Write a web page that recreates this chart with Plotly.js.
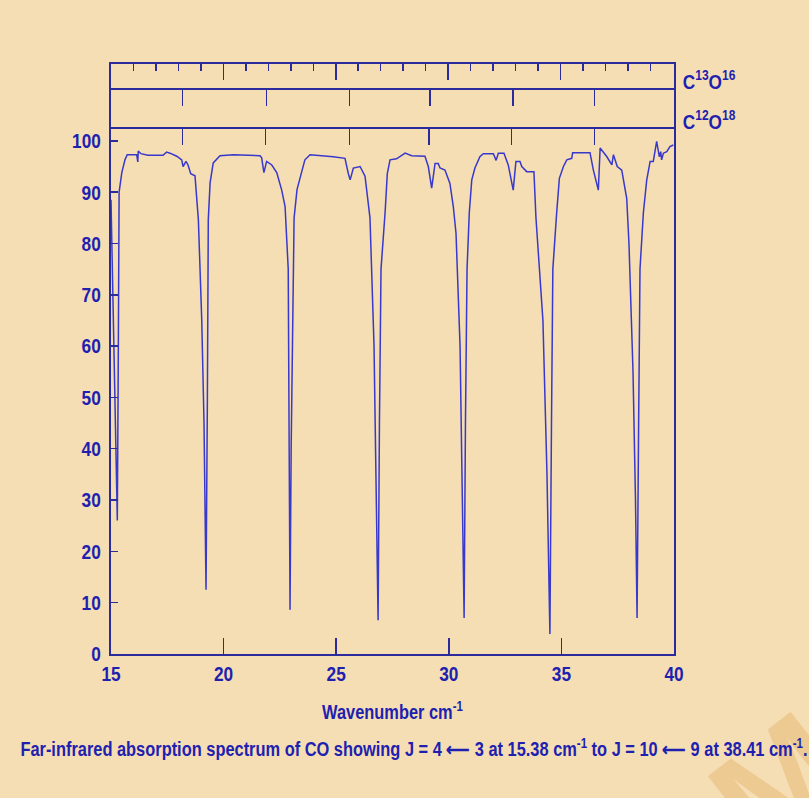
<!DOCTYPE html>
<html>
<head>
<meta charset="utf-8">
<script src="https://cdn.plot.ly/plotly-3.0.1.min.js"></script>
<style>html,body{margin:0;padding:0;background:#f5deb3;}</style>
</head>
<body>
<div id="chart" style="width:809px;height:798px;"></div>
<script>
// Spectrum: wavenumber (cm^-1) and transmission (%)
const wavenumber = [
  15.00, 15.28, 15.32, 15.36, 15.48, 15.62, 15.72, 16.14, 16.19, 16.21, 16.33, 16.64, 17.31, 17.47, 17.62,
  17.92, 18.14, 18.20, 18.33, 18.42, 18.54, 18.73, 18.88, 19.03, 19.13, 19.17, 19.22, 19.28, 19.32, 19.40,
  19.54, 19.84, 20.43, 21.62, 21.69, 21.79, 21.91, 22.14, 22.36, 22.58, 22.73, 22.87, 22.92, 22.95, 23.00,
  23.06, 23.13, 23.26, 23.36, 23.47, 23.61, 23.84, 24.87, 25.39, 25.54, 25.62, 25.76, 26.06, 26.28, 26.50,
  26.68, 26.79, 26.86, 26.92, 26.99, 27.17, 27.27, 27.39, 27.68, 28.06, 28.35, 28.94, 29.09, 29.24, 29.39,
  29.53, 29.61, 29.83, 30.05, 30.20, 30.32, 30.50, 30.61, 30.68, 30.74, 30.81, 30.91, 31.02, 31.16, 31.38,
  31.53, 31.98, 32.10, 32.20, 32.45, 32.64, 32.86, 32.98, 33.16, 33.24, 33.46, 33.78, 33.87, 34.18, 34.36,
  34.49, 34.56, 34.62, 34.79, 34.91, 35.09, 35.24, 35.46, 35.50, 36.27, 36.42, 36.64, 36.72, 37.02, 37.24,
  37.31, 37.48, 37.68, 37.82, 37.90, 38.00, 38.18, 38.29, 38.36, 38.43, 38.49, 38.64, 38.79, 38.94, 39.08,
  39.23, 39.35, 39.41, 39.45, 39.53, 39.68, 39.82, 39.97
];
const transmission = [
  88.5, 26.0, 55.0, 90.0, 93.8, 96.3, 97.3, 97.3, 95.9, 98.0, 97.5, 97.2, 97.2, 97.8, 97.6,
  97.0, 96.3, 95.0, 96.0, 95.3, 93.6, 93.2, 84.6, 65.0, 45.0, 30.0, 12.5, 50.0, 84.6, 91.8,
  95.7, 97.1, 97.3, 97.1, 96.7, 93.8, 96.0, 95.3, 93.8, 90.4, 87.2, 75.0, 45.0, 8.6, 40.0,
  60.0, 85.0, 90.5, 92.0, 94.0, 96.3, 97.3, 96.9, 96.6, 93.6, 92.4, 94.7, 95.0, 93.1, 85.0,
  60.0, 30.0, 6.6, 45.0, 75.0, 86.0, 93.6, 96.3, 96.5, 97.6, 97.1, 97.0, 95.0, 90.8, 95.6,
  95.6, 94.7, 94.3, 91.7, 87.2, 82.0, 60.0, 30.0, 7.0, 45.0, 75.0, 86.0, 92.4, 94.7, 96.9,
  97.5, 97.5, 96.2, 97.6, 97.6, 95.3, 90.4, 96.0, 96.0, 95.0, 94.0, 94.0, 85.0, 65.0, 35.0,
  3.9, 45.0, 75.0, 86.0, 92.7, 95.0, 96.3, 96.6, 97.7, 97.7, 94.3, 90.4, 98.6, 96.9, 95.3,
  97.3, 95.0, 94.3, 90.8, 88.8, 80.0, 55.0, 30.0, 7.0, 45.0, 75.0, 86.0, 92.4, 96.0, 96.0,
  99.9, 96.9, 97.9, 96.3, 97.6, 97.9, 98.9, 99.2
];
// Isotopic line positions marked on the two upper scales
const c13o16Lines = [18.18, 21.91, 25.58, 29.17, 32.84, 36.46];
const c12o18Lines = [18.18, 21.87, 25.58, 29.12, 32.79, 36.46];
// Top wavenumber scale ticks
const topMajorTicks = [20, 25, 30, 35];
const topMinorTicks = [16, 17, 18, 19, 21, 22, 23, 24, 26, 27, 28, 29, 31, 32, 33, 34, 36, 37, 38, 39];
const yTicks = [0, 10, 20, 30, 40, 50, 60, 70, 80, 90, 100];
const xTicks = [15, 20, 25, 30, 35, 40];

const BLUE = '#2b2b9e';
const TXT = '#1f1fb0';
const FONT = 'Liberation Sans, Arial, sans-serif';
const NARROW = 0.82;   // condense text like Arial Narrow

const traces = [
  {x: wavenumber, y: transmission, type: 'scatter', mode: 'lines',
   line: {color: '#3838cc', width: 1.5}, xaxis: 'x', yaxis: 'y', hoverinfo: 'skip'},
  // empty traces so that the two isotope scale strips are created
  {x: [], y: [], type: 'scatter', mode: 'lines', xaxis: 'x2', yaxis: 'y2', hoverinfo: 'skip'},
  {x: [], y: [], type: 'scatter', mode: 'lines', xaxis: 'x3', yaxis: 'y3', hoverinfo: 'skip'},
  {x: [], y: [], type: 'scatter', mode: 'lines', xaxis: 'x4', yaxis: 'y3', hoverinfo: 'skip'}
];

const d1 = 527 / 590, d2 = 566 / 590;
const stripAxis = {showticklabels: false, ticks: '', showline: true, linecolor: BLUE, linewidth: 2,
                   mirror: true, showgrid: false, zeroline: false, range: [0, 1], fixedrange: true};

const layout = {
  width: 809, height: 798,
  margin: {l: 111, r: 135, t: 64, b: 144, pad: 0},
  paper_bgcolor: '#f5deb3', plot_bgcolor: '#f5deb3',
  showlegend: false,
  font: {family: FONT, color: TXT, size: 21, weight: 'bold'},
  xaxis: {
    anchor: 'y', domain: [0, 1], range: [15, 40], tickvals: xTicks,
    ticks: 'inside', ticklen: 16, tickwidth: 1.5, tickcolor: BLUE,
    showline: true, linecolor: BLUE, linewidth: 2, mirror: false,
    showgrid: false, zeroline: false, ticklabelstandoff: 0,
    tickfont: {family: FONT, size: 21, color: TXT, weight: 'bold'},
    title: {text: 'Wavenumber cm<sup>-1</sup>', standoff: 21,
            font: {family: FONT, size: 20, color: TXT, weight: 'bold'}}
  },
  yaxis: {
    anchor: 'x', domain: [0, d1], range: [0, 102.7], tickvals: yTicks,
    ticks: 'inside', ticklen: 7, tickwidth: 1.5, tickcolor: BLUE,
    showline: true, linecolor: BLUE, linewidth: 2, mirror: true,
    showgrid: false, zeroline: false, ticklabelstandoff: 4,
    tickfont: {family: FONT, size: 21, color: TXT, weight: 'bold'}
  },
  xaxis2: {
    anchor: 'y2', domain: [0, 1], range: [15, 40], tickvals: c12o18Lines,
    ticks: 'outside', ticklen: 16, tickwidth: 1.5, tickcolor: BLUE,
    showticklabels: false, showline: true, linecolor: BLUE, linewidth: 2,
    showgrid: false, zeroline: false
  },
  yaxis2: Object.assign({anchor: 'x2', domain: [d1, d2]}, stripAxis),
  xaxis3: {
    anchor: 'y3', domain: [0, 1], range: [15, 40], tickvals: c13o16Lines,
    ticks: 'outside', ticklen: 16, tickwidth: 1.5, tickcolor: BLUE,
    showticklabels: false, showline: true, linecolor: BLUE, linewidth: 2,
    showgrid: false, zeroline: false
  },
  yaxis3: Object.assign({anchor: 'x3', domain: [d2, 1]}, stripAxis),
  xaxis4: {
    anchor: 'y3', overlaying: 'x3', side: 'top', range: [15, 40.05],
    tickvals: topMajorTicks, ticks: 'inside', ticklen: 16, tickwidth: 1.5, tickcolor: BLUE,
    minor: {tickvals: topMinorTicks, ticks: 'inside', ticklen: 7, tickwidth: 1.5, tickcolor: BLUE, showgrid: false},
    showticklabels: false, showline: true, linecolor: BLUE, linewidth: 2,
    showgrid: false, zeroline: false
  },
  annotations: [
    // faint watermark remnant, bottom right (drawn first so text sits on top)
    {xref: 'paper', yref: 'paper', x: 1.19, y: -0.22, xanchor: 'center', yanchor: 'middle',
     showarrow: false, text: 'M', textangle: -38,
     font: {family: FONT, size: 150, color: 'rgba(232,186,120,0.55)', weight: 'bold'}},
    {xref: 'paper', yref: 'paper', x: 1.012, y: d2, xanchor: 'left', yanchor: 'middle',
     xshift: -6, yshift: 8, showarrow: false, text: 'C<sup>13</sup>O<sup>16</sup>',
     font: {family: FONT, size: 21, color: TXT, weight: 'bold'}},
    {xref: 'paper', yref: 'paper', x: 1.012, y: d1, xanchor: 'left', yanchor: 'middle',
     xshift: -6, yshift: 7, showarrow: false, text: 'C<sup>12</sup>O<sup>18</sup>',
     font: {family: FONT, size: 21, color: TXT, weight: 'bold'}},
    {xref: 'paper', yref: 'paper', x: 0.539, y: -0.158, xanchor: 'center', yanchor: 'middle',
     showarrow: false,
     text: 'Far-infrared absorption spectrum of CO showing J = 4 \u27F5 3 at 15.38 cm<sup>-1</sup> to J = 10 \u27F5 9 at 38.41 cm<sup>-1</sup>.',
     font: {family: FONT, size: 20, color: TXT, weight: 'bold'}}
  ]
};

Plotly.newPlot('chart', traces, layout, {displayModeBar: false, staticPlot: true}).then(function (gd) {
  gd.querySelectorAll('.xtick text, .ytick text, .xtitle, .annotation-text').forEach(function (t) {
    if (t.textContent === 'M') return;
    var w = t.getComputedTextLength();
    if (w > 0) {
      t.setAttribute('textLength', (w * NARROW).toFixed(1));
      t.setAttribute('lengthAdjust', 'spacingAndGlyphs');
    }
  });
});
</script>
</body>
</html>
